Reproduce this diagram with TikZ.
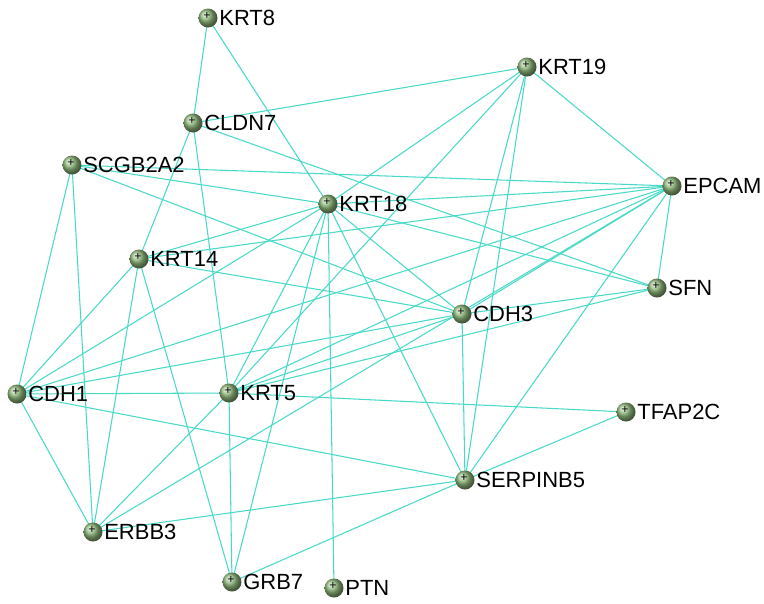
\documentclass[tikz,border=0pt]{standalone}
\usepackage{fontspec}
\setmainfont{Liberation Sans}
\begin{document}
\begin{tikzpicture}[x=0.02cm,y=-0.02cm,
  gene/.style={circle,minimum size=0.38cm,inner sep=0pt,shading=ball,
    ball color={rgb,255:red,146;green,188;blue,126}},
  plus/.style={inner sep=0pt,font=\fontsize{7}{7}\selectfont},
  lbl/.style={anchor=west,inner sep=0pt,font=\fontsize{12.5}{12.5}\selectfont},
  link/.style={draw={rgb,255:red,72;green,218;blue,200},line width=0.6pt}]
\useasboundingbox (0,0) rectangle (764,603);
\fill[white] (0,0) rectangle (764,603);

% gene positions
\foreach \n/\x/\y in {KRT8/208/18, KRT19/527/67, CLDN7/193/123, SCGB2A2/72/165,
  EPCAM/672/186, KRT18/328/204, KRT14/139/259, SFN/657/288, CDH3/462/314,
  CDH1/17/394, KRT5/229/393, TFAP2C/626/412, SERPINB5/465/480,
  ERBB3/93/532, GRB7/232/582, PTN/334/588}
  \coordinate (\n) at (\x,\y);

% interactions
\foreach \a/\b in {KRT8/CLDN7, KRT8/KRT18, CLDN7/KRT19, CLDN7/KRT14, CLDN7/KRT5,
  CLDN7/SFN, SCGB2A2/CDH1, SCGB2A2/ERBB3, SCGB2A2/EPCAM, SCGB2A2/KRT18,
  SCGB2A2/CDH3, KRT19/KRT18, KRT19/EPCAM, KRT19/CDH3, KRT19/SERPINB5,
  KRT19/KRT5, EPCAM/KRT18, EPCAM/KRT14, EPCAM/CDH1, EPCAM/KRT5,
  EPCAM/CDH3, EPCAM/ERBB3, EPCAM/SFN, EPCAM/SERPINB5, KRT18/SFN, KRT18/KRT14,
  KRT18/CDH1, KRT18/KRT5, KRT18/GRB7, KRT18/PTN, KRT18/SERPINB5, KRT18/CDH3,
  KRT14/CDH3, KRT14/CDH1, KRT14/ERBB3, KRT14/GRB7, CDH1/CDH3, CDH1/KRT5,
  CDH1/SERPINB5, CDH1/ERBB3, KRT5/CDH3, KRT5/SFN, KRT5/TFAP2C, KRT5/ERBB3,
  KRT5/GRB7, SERPINB5/ERBB3, SERPINB5/GRB7, SERPINB5/CDH3, SERPINB5/TFAP2C,
  CDH3/SFN}
  \path[link] (\a) -- (\b);

% gene balls and names
\foreach \n in {KRT8, KRT19, CLDN7, SCGB2A2, EPCAM, KRT18, KRT14, SFN, CDH3,
  CDH1, KRT5, TFAP2C, SERPINB5, ERBB3, GRB7, PTN} {
  \node[gene] (\n-b) at (\n) {};
  \node[plus] (\n-p) at ([shift={(-1,-2)}]\n) {+};
  \node[lbl] (\n-t) at ([xshift=0.22cm]\n) {\n};
}
\end{tikzpicture}
\end{document}
